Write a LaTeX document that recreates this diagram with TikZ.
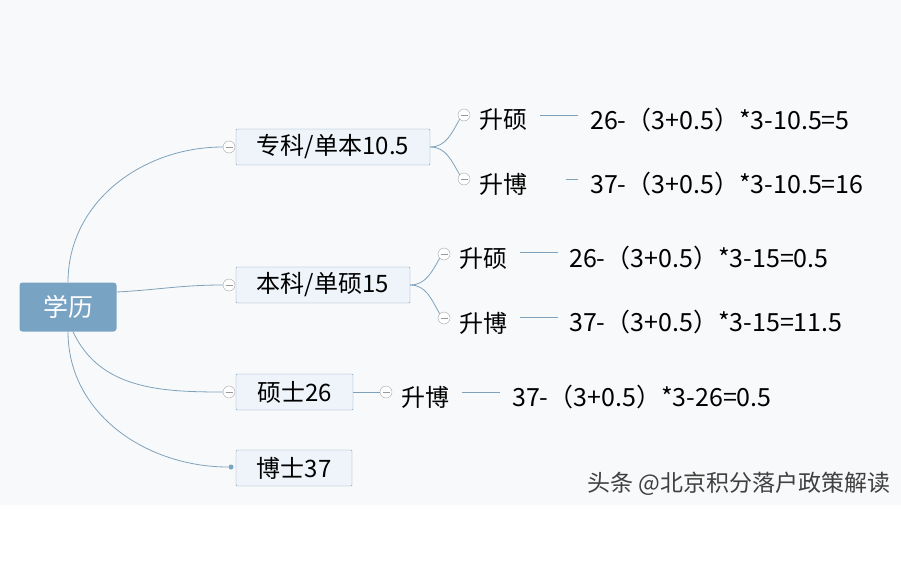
\documentclass[tikz,border=0pt]{standalone}
\usepackage{fontspec}
\setmainfont{Noto Sans CJK SC}
\usetikzlibrary{positioning}
\definecolor{linecol}{HTML}{7FA2BC}
\definecolor{rootcol}{HTML}{78A3C3}
\definecolor{boxcol}{HTML}{EEF4F9}
\definecolor{bgcol}{HTML}{F8F9FA}
\tikzset{
    topic/.style={draw=linecol, fill=boxcol, rounded corners=1pt, minimum height=36pt, inner xsep=6pt, font=\fontsize{24}{28}\selectfont},
    sub/.style={inner sep=0pt, anchor=west, font=\fontsize{24}{28}\selectfont},
    calc/.style={inner sep=0pt, anchor=west, font=\fontsize{25}{28}\selectfont},
    fold/.style={circle, draw=gray!70, fill=white, inner sep=0pt, minimum size=12pt,
        path picture={\draw[gray!80] ([xshift=-3.5pt]path picture bounding box.center) -- ([xshift=3.5pt]path picture bounding box.center);}},
    link/.style={draw=linecol, line width=0.8pt}
}
\begin{document}
\begin{tikzpicture}[x=1pt, y=-1pt]
    \fill[bgcol] (0,0) rectangle (901,505);
    \fill[white] (0,505) rectangle (901,586);
    \useasboundingbox (0,0) rectangle (901,586);

    % root
    \node (root) [fill=rootcol, rounded corners=3pt, minimum width=97pt, minimum height=49pt, text=white,
        font=\fontsize{25}{28}\selectfont] at (68,307) {学历};

    % level one
    \node (zk) [topic, minimum width=194pt] at (333,147) {专科/单本10.5};
    \node (bk) [topic, minimum width=174pt] at (323,285) {本科/单硕15};
    \node (ss) [topic, minimum width=117pt] at (294.5,392) {硕士26};
    \node (bs) [topic, minimum width=116pt] at (294,468) {博士37};
    \node (zkf) [fold] at (229,147) {};
    \node (bkf) [fold] at (229,285) {};
    \node (ssf) [fold] at (229,392) {};
    \node (bsf) [circle, fill=rootcol, inner sep=0pt, minimum size=5pt] at (231,467) {};

    \draw[link] (root.north) to[out=90, in=180] (zkf.west);
    \draw[link] ([yshift=15pt]root.east) to[out=3, in=180] (bkf.west);
    \draw[link] ([xshift=5pt]root.south) to[out=-65, in=180] (ssf.west);
    \draw[link] (root.south) to[out=-90, in=180] (bsf.west);

    % level two
    \node (zka) [fold] at (464,115) {};
    \node (zkb) [fold] at (464,179) {};
    \node (bka) [fold] at (444,254) {};
    \node (bkb) [fold] at (444,318) {};
    \node (ssa) [fold] at (386,392) {};
    \node (zkat) [sub, right=9pt of zka, yshift=-5pt] {升硕};
    \node (zkbt) [sub, right=9pt of zkb, yshift=-5pt] {升博};
    \node (bkat) [sub, right=9pt of bka, yshift=-5pt] {升硕};
    \node (bkbt) [sub, right=9pt of bkb, yshift=-5pt] {升博};
    \node (ssat) [sub, right=9pt of ssa, yshift=-5pt] {升博};

    \draw[link] (zk.east) to[out=0, in=240] (zka.south west);
    \draw[link] (zk.east) to[out=0, in=120] (zkb.north west);
    \draw[link] (bk.east) to[out=0, in=240] (bka.south west);
    \draw[link] (bk.east) to[out=0, in=120] (bkb.north west);
    \draw[link] (ss.east) -- (ssa.west);

    % results
    \node (zkar) [calc] at (590,120) {26-（3+0.5）*3-10.5=5};
    \node (zkbr) [calc] at (590,184) {37-（3+0.5）*3-10.5=16};
    \node (bkar) [calc] at (569,258) {26-（3+0.5）*3-15=0.5};
    \node (bkbr) [calc] at (569,322) {37-（3+0.5）*3-15=11.5};
    \node (ssar) [calc] at (512,397) {37-（3+0.5）*3-26=0.5};
    \coordinate (zkal) at (540,115);
    \coordinate (zkbl) at (566,179);
    \coordinate (bkal) at (520,252);
    \coordinate (bkbl) at (520,317);
    \coordinate (ssal) at (462,392);
    \draw[link] (zkal) -- +(38,0);
    \draw[link] (zkbl) -- +(12,0);
    \draw[link] (bkal) -- +(38,0);
    \draw[link] (bkbl) -- +(38,0);
    \draw[link] (ssal) -- +(38,0);

    \node (mark) [anchor=west, inner sep=0pt, text=black!75, font=\fontsize{23}{26}\selectfont] at (587,484) {头条 @北京积分落户政策解读};
\end{tikzpicture}
\end{document}
